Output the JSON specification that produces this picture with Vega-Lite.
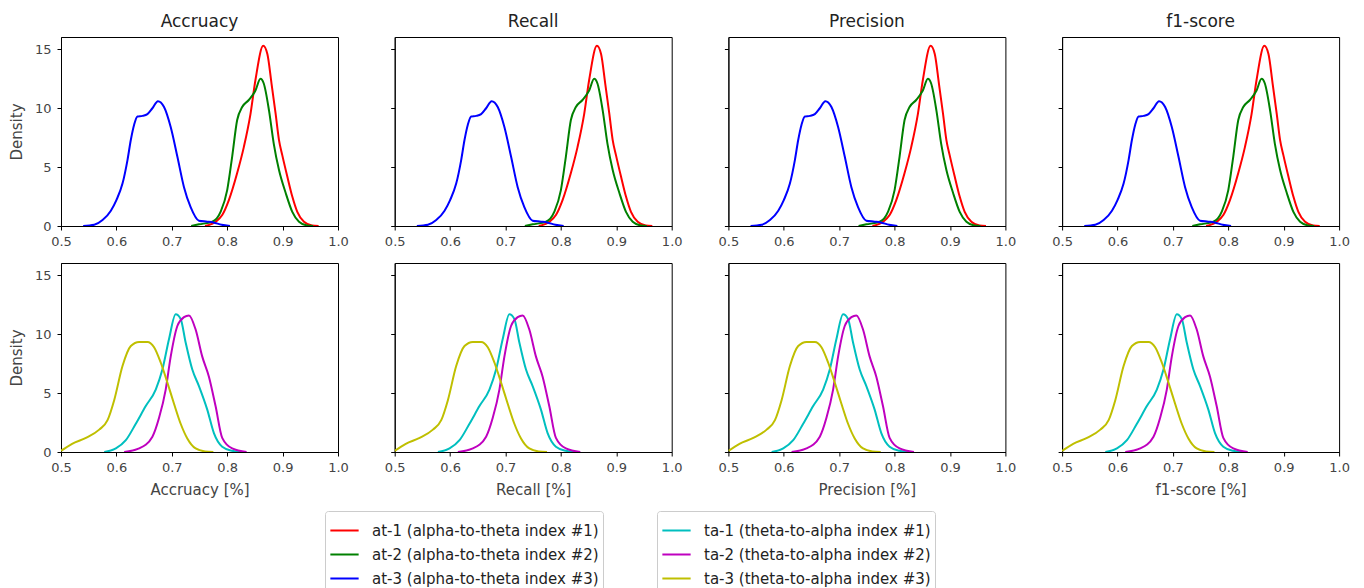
{
  "$schema": "https://vega.github.io/schema/vega-lite/v6.json",
  "background": "white",
  "padding": {"left": 8, "top": 12, "right": 5, "bottom": 0},
  "datasets": {
    "kde": [
      {"g": "at", "s": "at-1 (alpha-to-theta index #1)", "x": 0.760, "y": 0.0},
      {"g": "at", "s": "at-1 (alpha-to-theta index #1)", "x": 0.779, "y": 0.36},
      {"g": "at", "s": "at-1 (alpha-to-theta index #1)", "x": 0.791, "y": 0.93},
      {"g": "at", "s": "at-1 (alpha-to-theta index #1)", "x": 0.803, "y": 2.2},
      {"g": "at", "s": "at-1 (alpha-to-theta index #1)", "x": 0.818, "y": 4.5},
      {"g": "at", "s": "at-1 (alpha-to-theta index #1)", "x": 0.830, "y": 6.7},
      {"g": "at", "s": "at-1 (alpha-to-theta index #1)", "x": 0.842, "y": 9.5},
      {"g": "at", "s": "at-1 (alpha-to-theta index #1)", "x": 0.851, "y": 12.4},
      {"g": "at", "s": "at-1 (alpha-to-theta index #1)", "x": 0.865, "y": 15.3},
      {"g": "at", "s": "at-1 (alpha-to-theta index #1)", "x": 0.8725, "y": 14.6},
      {"g": "at", "s": "at-1 (alpha-to-theta index #1)", "x": 0.880, "y": 12.1},
      {"g": "at", "s": "at-1 (alpha-to-theta index #1)", "x": 0.8875, "y": 9.5},
      {"g": "at", "s": "at-1 (alpha-to-theta index #1)", "x": 0.8935, "y": 7.3},
      {"g": "at", "s": "at-1 (alpha-to-theta index #1)", "x": 0.8995, "y": 6.0},
      {"g": "at", "s": "at-1 (alpha-to-theta index #1)", "x": 0.9085, "y": 4.2},
      {"g": "at", "s": "at-1 (alpha-to-theta index #1)", "x": 0.9175, "y": 2.5},
      {"g": "at", "s": "at-1 (alpha-to-theta index #1)", "x": 0.9265, "y": 1.2},
      {"g": "at", "s": "at-1 (alpha-to-theta index #1)", "x": 0.9386, "y": 0.36},
      {"g": "at", "s": "at-1 (alpha-to-theta index #1)", "x": 0.953, "y": 0.05},
      {"g": "at", "s": "at-1 (alpha-to-theta index #1)", "x": 0.965, "y": 0.0},

      {"g": "at", "s": "at-2 (alpha-to-theta index #2)", "x": 0.735, "y": 0.0},
      {"g": "at", "s": "at-2 (alpha-to-theta index #2)", "x": 0.749, "y": 0.14},
      {"g": "at", "s": "at-2 (alpha-to-theta index #2)", "x": 0.773, "y": 0.36},
      {"g": "at", "s": "at-2 (alpha-to-theta index #2)", "x": 0.788, "y": 1.2},
      {"g": "at", "s": "at-2 (alpha-to-theta index #2)", "x": 0.800, "y": 3.05},
      {"g": "at", "s": "at-2 (alpha-to-theta index #2)", "x": 0.809, "y": 5.9},
      {"g": "at", "s": "at-2 (alpha-to-theta index #2)", "x": 0.818, "y": 9.0},
      {"g": "at", "s": "at-2 (alpha-to-theta index #2)", "x": 0.827, "y": 10.1},
      {"g": "at", "s": "at-2 (alpha-to-theta index #2)", "x": 0.839, "y": 10.7},
      {"g": "at", "s": "at-2 (alpha-to-theta index #2)", "x": 0.851, "y": 11.5},
      {"g": "at", "s": "at-2 (alpha-to-theta index #2)", "x": 0.860, "y": 12.5},
      {"g": "at", "s": "at-2 (alpha-to-theta index #2)", "x": 0.866, "y": 12.1},
      {"g": "at", "s": "at-2 (alpha-to-theta index #2)", "x": 0.8755, "y": 9.8},
      {"g": "at", "s": "at-2 (alpha-to-theta index #2)", "x": 0.884, "y": 7.0},
      {"g": "at", "s": "at-2 (alpha-to-theta index #2)", "x": 0.8935, "y": 4.75},
      {"g": "at", "s": "at-2 (alpha-to-theta index #2)", "x": 0.9056, "y": 2.8},
      {"g": "at", "s": "at-2 (alpha-to-theta index #2)", "x": 0.9175, "y": 1.2},
      {"g": "at", "s": "at-2 (alpha-to-theta index #2)", "x": 0.9296, "y": 0.36},
      {"g": "at", "s": "at-2 (alpha-to-theta index #2)", "x": 0.944, "y": 0.05},
      {"g": "at", "s": "at-2 (alpha-to-theta index #2)", "x": 0.955, "y": 0.0},

      {"g": "at", "s": "at-3 (alpha-to-theta index #3)", "x": 0.540, "y": 0.0},
      {"g": "at", "s": "at-3 (alpha-to-theta index #3)", "x": 0.560, "y": 0.1},
      {"g": "at", "s": "at-3 (alpha-to-theta index #3)", "x": 0.575, "y": 0.5},
      {"g": "at", "s": "at-3 (alpha-to-theta index #3)", "x": 0.590, "y": 1.3},
      {"g": "at", "s": "at-3 (alpha-to-theta index #3)", "x": 0.600, "y": 2.2},
      {"g": "at", "s": "at-3 (alpha-to-theta index #3)", "x": 0.611, "y": 3.6},
      {"g": "at", "s": "at-3 (alpha-to-theta index #3)", "x": 0.620, "y": 5.6},
      {"g": "at", "s": "at-3 (alpha-to-theta index #3)", "x": 0.626, "y": 7.3},
      {"g": "at", "s": "at-3 (alpha-to-theta index #3)", "x": 0.632, "y": 8.6},
      {"g": "at", "s": "at-3 (alpha-to-theta index #3)", "x": 0.638, "y": 9.3},
      {"g": "at", "s": "at-3 (alpha-to-theta index #3)", "x": 0.647, "y": 9.35},
      {"g": "at", "s": "at-3 (alpha-to-theta index #3)", "x": 0.656, "y": 9.5},
      {"g": "at", "s": "at-3 (alpha-to-theta index #3)", "x": 0.665, "y": 10.0},
      {"g": "at", "s": "at-3 (alpha-to-theta index #3)", "x": 0.675, "y": 10.6},
      {"g": "at", "s": "at-3 (alpha-to-theta index #3)", "x": 0.686, "y": 10.1},
      {"g": "at", "s": "at-3 (alpha-to-theta index #3)", "x": 0.698, "y": 8.4},
      {"g": "at", "s": "at-3 (alpha-to-theta index #3)", "x": 0.710, "y": 5.9},
      {"g": "at", "s": "at-3 (alpha-to-theta index #3)", "x": 0.722, "y": 3.3},
      {"g": "at", "s": "at-3 (alpha-to-theta index #3)", "x": 0.734, "y": 1.6},
      {"g": "at", "s": "at-3 (alpha-to-theta index #3)", "x": 0.749, "y": 0.45},
      {"g": "at", "s": "at-3 (alpha-to-theta index #3)", "x": 0.764, "y": 0.37},
      {"g": "at", "s": "at-3 (alpha-to-theta index #3)", "x": 0.775, "y": 0.3},
      {"g": "at", "s": "at-3 (alpha-to-theta index #3)", "x": 0.790, "y": 0.1},
      {"g": "at", "s": "at-3 (alpha-to-theta index #3)", "x": 0.805, "y": 0.0},

      {"g": "ta", "s": "ta-1 (theta-to-alpha index #1)", "x": 0.578, "y": 0.0},
      {"g": "ta", "s": "ta-1 (theta-to-alpha index #1)", "x": 0.599, "y": 0.3},
      {"g": "ta", "s": "ta-1 (theta-to-alpha index #1)", "x": 0.617, "y": 1.0},
      {"g": "ta", "s": "ta-1 (theta-to-alpha index #1)", "x": 0.635, "y": 2.4},
      {"g": "ta", "s": "ta-1 (theta-to-alpha index #1)", "x": 0.653, "y": 3.9},
      {"g": "ta", "s": "ta-1 (theta-to-alpha index #1)", "x": 0.671, "y": 5.3},
      {"g": "ta", "s": "ta-1 (theta-to-alpha index #1)", "x": 0.683, "y": 7.0},
      {"g": "ta", "s": "ta-1 (theta-to-alpha index #1)", "x": 0.695, "y": 9.6},
      {"g": "ta", "s": "ta-1 (theta-to-alpha index #1)", "x": 0.707, "y": 11.7},
      {"g": "ta", "s": "ta-1 (theta-to-alpha index #1)", "x": 0.716, "y": 11.3},
      {"g": "ta", "s": "ta-1 (theta-to-alpha index #1)", "x": 0.725, "y": 9.3},
      {"g": "ta", "s": "ta-1 (theta-to-alpha index #1)", "x": 0.737, "y": 7.0},
      {"g": "ta", "s": "ta-1 (theta-to-alpha index #1)", "x": 0.749, "y": 5.6},
      {"g": "ta", "s": "ta-1 (theta-to-alpha index #1)", "x": 0.764, "y": 3.6},
      {"g": "ta", "s": "ta-1 (theta-to-alpha index #1)", "x": 0.776, "y": 1.6},
      {"g": "ta", "s": "ta-1 (theta-to-alpha index #1)", "x": 0.791, "y": 0.45},
      {"g": "ta", "s": "ta-1 (theta-to-alpha index #1)", "x": 0.809, "y": 0.1},
      {"g": "ta", "s": "ta-1 (theta-to-alpha index #1)", "x": 0.825, "y": 0.0},

      {"g": "ta", "s": "ta-2 (theta-to-alpha index #2)", "x": 0.614, "y": 0.0},
      {"g": "ta", "s": "ta-2 (theta-to-alpha index #2)", "x": 0.641, "y": 0.3},
      {"g": "ta", "s": "ta-2 (theta-to-alpha index #2)", "x": 0.665, "y": 1.3},
      {"g": "ta", "s": "ta-2 (theta-to-alpha index #2)", "x": 0.677, "y": 2.9},
      {"g": "ta", "s": "ta-2 (theta-to-alpha index #2)", "x": 0.689, "y": 5.3},
      {"g": "ta", "s": "ta-2 (theta-to-alpha index #2)", "x": 0.698, "y": 8.1},
      {"g": "ta", "s": "ta-2 (theta-to-alpha index #2)", "x": 0.710, "y": 10.7},
      {"g": "ta", "s": "ta-2 (theta-to-alpha index #2)", "x": 0.722, "y": 11.45},
      {"g": "ta", "s": "ta-2 (theta-to-alpha index #2)", "x": 0.731, "y": 11.6},
      {"g": "ta", "s": "ta-2 (theta-to-alpha index #2)", "x": 0.743, "y": 10.4},
      {"g": "ta", "s": "ta-2 (theta-to-alpha index #2)", "x": 0.755, "y": 8.1},
      {"g": "ta", "s": "ta-2 (theta-to-alpha index #2)", "x": 0.767, "y": 6.4},
      {"g": "ta", "s": "ta-2 (theta-to-alpha index #2)", "x": 0.779, "y": 3.9},
      {"g": "ta", "s": "ta-2 (theta-to-alpha index #2)", "x": 0.791, "y": 1.2},
      {"g": "ta", "s": "ta-2 (theta-to-alpha index #2)", "x": 0.809, "y": 0.3},
      {"g": "ta", "s": "ta-2 (theta-to-alpha index #2)", "x": 0.835, "y": 0.0},

      {"g": "ta", "s": "ta-3 (theta-to-alpha index #3)", "x": 0.500, "y": 0.1},
      {"g": "ta", "s": "ta-3 (theta-to-alpha index #3)", "x": 0.520, "y": 0.7},
      {"g": "ta", "s": "ta-3 (theta-to-alpha index #3)", "x": 0.545, "y": 1.2},
      {"g": "ta", "s": "ta-3 (theta-to-alpha index #3)", "x": 0.569, "y": 1.9},
      {"g": "ta", "s": "ta-3 (theta-to-alpha index #3)", "x": 0.584, "y": 2.7},
      {"g": "ta", "s": "ta-3 (theta-to-alpha index #3)", "x": 0.596, "y": 4.4},
      {"g": "ta", "s": "ta-3 (theta-to-alpha index #3)", "x": 0.611, "y": 7.3},
      {"g": "ta", "s": "ta-3 (theta-to-alpha index #3)", "x": 0.626, "y": 9.0},
      {"g": "ta", "s": "ta-3 (theta-to-alpha index #3)", "x": 0.641, "y": 9.35},
      {"g": "ta", "s": "ta-3 (theta-to-alpha index #3)", "x": 0.656, "y": 9.35},
      {"g": "ta", "s": "ta-3 (theta-to-alpha index #3)", "x": 0.668, "y": 8.9},
      {"g": "ta", "s": "ta-3 (theta-to-alpha index #3)", "x": 0.680, "y": 7.6},
      {"g": "ta", "s": "ta-3 (theta-to-alpha index #3)", "x": 0.692, "y": 5.9},
      {"g": "ta", "s": "ta-3 (theta-to-alpha index #3)", "x": 0.704, "y": 4.1},
      {"g": "ta", "s": "ta-3 (theta-to-alpha index #3)", "x": 0.716, "y": 2.4},
      {"g": "ta", "s": "ta-3 (theta-to-alpha index #3)", "x": 0.728, "y": 1.15},
      {"g": "ta", "s": "ta-3 (theta-to-alpha index #3)", "x": 0.743, "y": 0.3},
      {"g": "ta", "s": "ta-3 (theta-to-alpha index #3)", "x": 0.760, "y": 0.05},
      {"g": "ta", "s": "ta-3 (theta-to-alpha index #3)", "x": 0.775, "y": 0.0}
    ]
  },
  "concat": [
    {
      "data": {"name": "kde"},
      "transform": [{"filter": "datum.g === 'at'"}],
      "title": "Accruacy",
      "mark": {"type": "line", "interpolate": "monotone", "strokeWidth": 2, "clip": true},
      "encoding": {
        "x": {"field": "x", "type": "quantitative", "scale": {"domain": [0.5, 1.0]}, "axis": {"title": null, "values": [0.5, 0.6, 0.7, 0.8, 0.9, 1.0], "format": ".1f"}},
        "y": {"field": "y", "type": "quantitative", "scale": {"domain": [0, 16.05]}, "axis": {"title": "Density", "values": [0, 5, 10, 15]}},
        "color": {
          "field": "s", "type": "nominal",
          "scale": {"domain": ["at-1 (alpha-to-theta index #1)", "at-2 (alpha-to-theta index #2)", "at-3 (alpha-to-theta index #3)"], "range": ["#ff0000", "#008000", "#0000ff"]},
          "legend": {"title": null, "orient": "none", "direction": "vertical", "legendX": 264, "legendY": 474}
        }
      }
    },
    {
      "data": {"name": "kde"},
      "transform": [{"filter": "datum.g === 'at'"}],
      "title": "Recall",
      "mark": {"type": "line", "interpolate": "monotone", "strokeWidth": 2, "clip": true},
      "encoding": {
        "x": {"field": "x", "type": "quantitative", "scale": {"domain": [0.5, 1.0]}, "axis": {"title": null, "values": [0.5, 0.6, 0.7, 0.8, 0.9, 1.0], "format": ".1f"}},
        "y": {"field": "y", "type": "quantitative", "scale": {"domain": [0, 16.05]}, "axis": {"title": null, "labels": false, "values": [0, 5, 10, 15]}},
        "color": {"field": "s", "type": "nominal"}
      }
    },
    {
      "data": {"name": "kde"},
      "transform": [{"filter": "datum.g === 'at'"}],
      "title": "Precision",
      "mark": {"type": "line", "interpolate": "monotone", "strokeWidth": 2, "clip": true},
      "encoding": {
        "x": {"field": "x", "type": "quantitative", "scale": {"domain": [0.5, 1.0]}, "axis": {"title": null, "values": [0.5, 0.6, 0.7, 0.8, 0.9, 1.0], "format": ".1f"}},
        "y": {"field": "y", "type": "quantitative", "scale": {"domain": [0, 16.05]}, "axis": {"title": null, "labels": false, "values": [0, 5, 10, 15]}},
        "color": {"field": "s", "type": "nominal"}
      }
    },
    {
      "data": {"name": "kde"},
      "transform": [{"filter": "datum.g === 'at'"}],
      "title": "f1-score",
      "mark": {"type": "line", "interpolate": "monotone", "strokeWidth": 2, "clip": true},
      "encoding": {
        "x": {"field": "x", "type": "quantitative", "scale": {"domain": [0.5, 1.0]}, "axis": {"title": null, "values": [0.5, 0.6, 0.7, 0.8, 0.9, 1.0], "format": ".1f"}},
        "y": {"field": "y", "type": "quantitative", "scale": {"domain": [0, 16.05]}, "axis": {"title": null, "labels": false, "values": [0, 5, 10, 15]}},
        "color": {"field": "s", "type": "nominal"}
      }
    },
    {
      "data": {"name": "kde"},
      "transform": [{"filter": "datum.g === 'ta'"}],
      "mark": {"type": "line", "interpolate": "monotone", "strokeWidth": 2, "clip": true},
      "encoding": {
        "x": {"field": "x", "type": "quantitative", "scale": {"domain": [0.5, 1.0]}, "axis": {"title": "Accruacy [%]", "values": [0.5, 0.6, 0.7, 0.8, 0.9, 1.0], "format": ".1f"}},
        "y": {"field": "y", "type": "quantitative", "scale": {"domain": [0, 16.05]}, "axis": {"title": "Density", "values": [0, 5, 10, 15]}},
        "stroke": {
          "field": "s", "type": "nominal",
          "scale": {"domain": ["ta-1 (theta-to-alpha index #1)", "ta-2 (theta-to-alpha index #2)", "ta-3 (theta-to-alpha index #3)"], "range": ["#00bfbf", "#bf00bf", "#bfbf00"]},
          "legend": {"title": null, "orient": "none", "direction": "vertical", "legendX": 596, "legendY": 474}
        }
      }
    },
    {
      "data": {"name": "kde"},
      "transform": [{"filter": "datum.g === 'ta'"}],
      "mark": {"type": "line", "interpolate": "monotone", "strokeWidth": 2, "clip": true},
      "encoding": {
        "x": {"field": "x", "type": "quantitative", "scale": {"domain": [0.5, 1.0]}, "axis": {"title": "Recall [%]", "values": [0.5, 0.6, 0.7, 0.8, 0.9, 1.0], "format": ".1f"}},
        "y": {"field": "y", "type": "quantitative", "scale": {"domain": [0, 16.05]}, "axis": {"title": null, "labels": false, "values": [0, 5, 10, 15]}},
        "stroke": {"field": "s", "type": "nominal"}
      }
    },
    {
      "data": {"name": "kde"},
      "transform": [{"filter": "datum.g === 'ta'"}],
      "mark": {"type": "line", "interpolate": "monotone", "strokeWidth": 2, "clip": true},
      "encoding": {
        "x": {"field": "x", "type": "quantitative", "scale": {"domain": [0.5, 1.0]}, "axis": {"title": "Precision [%]", "values": [0.5, 0.6, 0.7, 0.8, 0.9, 1.0], "format": ".1f"}},
        "y": {"field": "y", "type": "quantitative", "scale": {"domain": [0, 16.05]}, "axis": {"title": null, "labels": false, "values": [0, 5, 10, 15]}},
        "stroke": {"field": "s", "type": "nominal"}
      }
    },
    {
      "data": {"name": "kde"},
      "transform": [{"filter": "datum.g === 'ta'"}],
      "mark": {"type": "line", "interpolate": "monotone", "strokeWidth": 2, "clip": true},
      "encoding": {
        "x": {"field": "x", "type": "quantitative", "scale": {"domain": [0.5, 1.0]}, "axis": {"title": "f1-score [%]", "values": [0.5, 0.6, 0.7, 0.8, 0.9, 1.0], "format": ".1f"}},
        "y": {"field": "y", "type": "quantitative", "scale": {"domain": [0, 16.05]}, "axis": {"title": null, "labels": false, "values": [0, 5, 10, 15]}},
        "stroke": {"field": "s", "type": "nominal"}
      }
    }
  ],
  "columns": 4,
  "spacing": {"row": 37, "column": 56.7},
  "bounds": "flush",
  "config": {
    "font": "DejaVu Sans",
    "view": {"continuousWidth": 277, "continuousHeight": 189, "stroke": "#000", "strokeWidth": 1},
    "axis": {
      "grid": false,
      "domainColor": "#000",
      "tickColor": "#000",
      "tickSize": 4,
      "labelFont": "DejaVu Sans",
      "labelFontSize": 13,
      "labelColor": "#444",
      "labelPadding": 4,
      "labelFlush": false,
      "labelOverlap": false,
      "titleFont": "DejaVu Sans",
      "titleFontSize": 15,
      "titleFontWeight": "normal",
      "titleColor": "#444"
    },
    "axisX": {"titlePadding": 8, "labelPadding": 5},
    "axisY": {"titlePadding": 10, "labelPadding": 6},
    "title": {"font": "DejaVu Sans", "fontSize": 17, "fontWeight": "normal", "color": "#222", "offset": 6},
    "legend": {
      "symbolType": "stroke",
      "symbolStrokeWidth": 2,
      "symbolSize": 800,
      "labelFont": "DejaVu Sans",
      "labelFontSize": 15,
      "labelColor": "#222",
      "labelLimit": 400,
      "labelOffset": 12,
      "strokeColor": "#cccccc",
      "fillColor": "white",
      "cornerRadius": 3,
      "padding": 4,
      "rowPadding": -7
    }
  }
}
